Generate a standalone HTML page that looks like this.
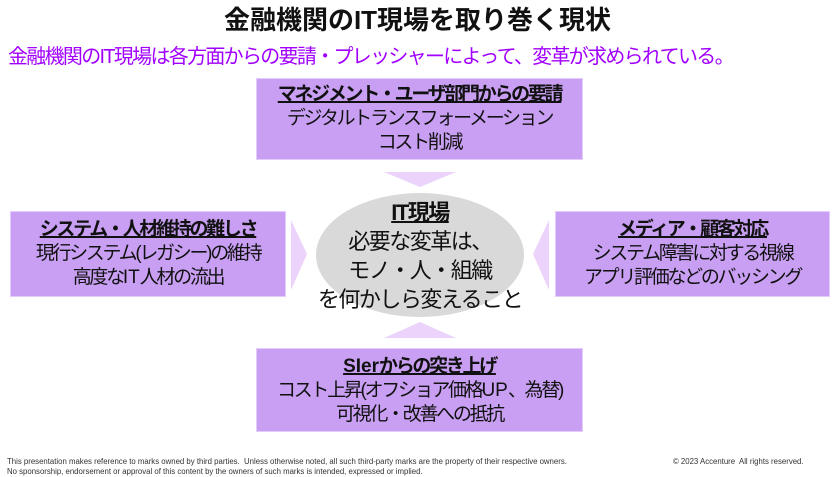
<!DOCTYPE html>
<html><head><meta charset="utf-8"><style>
body{margin:0;width:835px;height:477px;background:#fff;position:relative;overflow:hidden;font-family:"Liberation Sans","Noto Sans CJK JP",sans-serif;color:#111}
.a{position:absolute;white-space:nowrap}
.box{position:absolute;background:#c99ff3;border:1px solid #e3ccfb;box-sizing:border-box;text-align:center;font-size:19px;letter-spacing:-2.3px;line-height:24px}
.box b{text-decoration:underline;text-decoration-thickness:2px;display:block}
.l{letter-spacing:0}
</style></head><body>
<div class="a" style="left:0;width:835px;top:3px;text-align:center;font-size:26px;font-weight:bold;letter-spacing:0;line-height:34px">金融機関のIT現場を取り巻く現状</div>
<div class="a" style="left:8px;top:43px;font-size:20px;letter-spacing:-1.7px;color:#a100ff;line-height:28px">金融機関のIT現場は各方面からの要請・プレッシャーによって、変革が求められている。</div>

<div class="box" style="left:256px;top:78px;width:327px;height:82px;padding-top:4px"><b>マネジメント・ユーザ部門からの要請</b>デジタルトランスフォーメーション<br>コスト削減</div>
<div class="box" style="left:10px;top:211px;width:276px;height:86px;padding-top:6px"><b>システム・人材維持の難しさ</b>現行システム(レガシー)の維持<br>高度な<span class="l">IT</span>人材の流出</div>
<div class="box" style="left:555px;top:211px;width:275px;height:86px;padding-top:6px"><b>メディア・顧客対応</b>システム障害に対する視線<br>アプリ評価などのバッシング</div>
<div class="box" style="left:256px;top:348px;width:327px;height:84px;padding-top:6px"><b><span class="l">SIer</span>からの突き上げ</b>コスト上昇(オフショア価格<span class="l">UP</span>、為替)<br>可視化・改善への抵抗</div>

<svg class="a" style="left:0;top:0" width="835" height="477">
<ellipse cx="420" cy="255" rx="104" ry="62" fill="#d9d9d9"/>
<polygon points="384,172 456,172 420,187" fill="#ebd3fb"/>
<polygon points="384,338 456,338 420,322" fill="#ebd3fb"/>
<polygon points="291,220 307,254 291,290" fill="#ebd3fb"/>
<polygon points="549,220 533,254 549,290" fill="#ebd3fb"/>
</svg>
<div class="a" style="left:316px;width:208px;top:198px;text-align:center;font-size:22px;letter-spacing:-1.5px;line-height:29px"><b style="text-decoration:underline;text-decoration-thickness:2px">IT現場</b><br>必要な変革は、<br>モノ・人・組織<br>を何かしら変えること</div>

<div class="a" style="left:7px;top:457px;font-size:7.8px;line-height:10px;color:#333">This presentation makes reference to marks owned by third parties.&nbsp; Unless otherwise noted, all such third-party marks are the property of their respective owners.<br>No sponsorship, endorsement or approval of this content by the owners of such marks is intended, expressed or implied.</div>
<div class="a" style="left:673px;top:457px;font-size:7.8px;line-height:10px;color:#333">© 2023 Accenture&nbsp; All rights reserved.</div>
</body></html>
